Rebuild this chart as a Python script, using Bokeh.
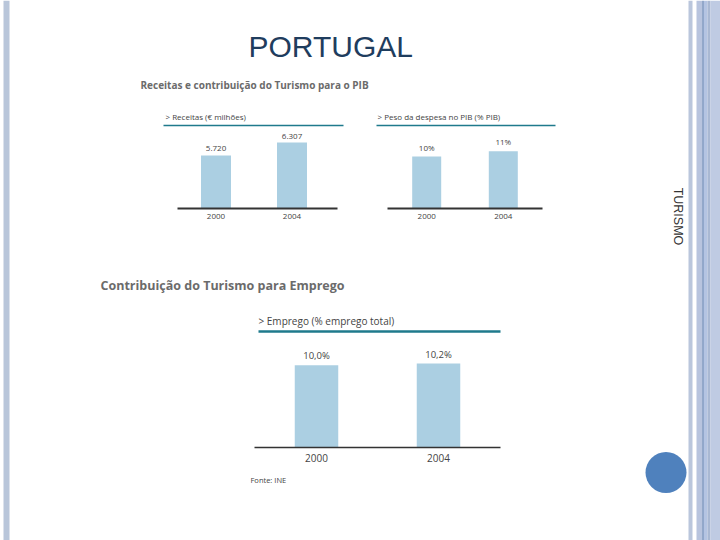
import math
from bokeh.plotting import figure
from bokeh.models import Range1d
from bokeh.core.properties import value
from bokeh.embed import file_html
from bokeh.resources import INLINE

# ---------------- data ----------------
years = ["2000", "2004"]
receitas = [5720, 6307]            # € milhões
peso_pib = [10, 11]                # % PIB
emprego = [10.0, 10.2]             # % emprego total

title_text = "PORTUGAL"
side_text = "TURISMO"
section1 = "Receitas e contribuição do Turismo para o PIB"
section2 = "Contribuição do Turismo para Emprego"
head1 = "> Receitas (€ milhões)"
head2 = "> Peso da despesa no PIB (% PIB)"
head3 = "> Emprego (% emprego total)"
fonte = "Fonte: INE"

rec_labels = [f"{v:,}".replace(",", ".") for v in receitas]
pib_labels = [f"{v}%" for v in peso_pib]
emp_labels = [f"{v:.1f}%".replace(".", ",") for v in emprego]

# ---------------- page ----------------
W, H = 720, 540
p = figure(width=W, height=H, output_backend="svg", toolbar_location=None,
           x_range=Range1d(0, W), y_range=Range1d(H, 0), min_border=0)
p.axis.visible = False
p.grid.visible = False
p.outline_line_color = None
p.background_fill_color = "white"
p.border_fill_color = "white"

SANS = value("Liberation Sans")
HUM = value("Open Sans")

# slide decorations
p.quad(left=3, right=9, bottom=H, top=0, fill_color="#b9c6da", line_color=None)
for l, r, c in [(688, 692, "#bac6dc"), (696, 702, "#b8c4de"), (703, 707, "#b4c4e2"),
                (707, 710, "#a9b8d2"), (710, 720, "#bfcbe3")]:
    p.quad(left=l, right=r, bottom=H, top=0, fill_color=c, line_color=None)
p.segment(x0=702.5, x1=702.5, y0=0, y1=H, line_color="#4a6fa5", line_width=1)
p.circle(x=[665.5], y=[472], radius=20.5, fill_color="#4f81bd", line_color=None)

p.text(x=[248], y=[46], text=[title_text], text_font=SANS, text_font_size="30px",
       text_color="#1f3d5e", text_baseline="middle", text_align="left")
p.text(x=[677], y=[216], text=[side_text], text_font=SANS, text_font_size="12.5px",
       text_color="#333333", angle=-math.pi / 2, text_align="center", text_baseline="middle")

p.text(x=[140], y=[84], text=[section1], text_font=HUM, text_font_size="10px",
       text_font_style="bold", text_color="#6b6b6b", text_baseline="middle")
p.text(x=[100], y=[285], text=[section2], text_font=HUM, text_font_size="12.5px",
       text_font_style="bold", text_color="#6b6b6b", text_baseline="middle")
p.text(x=[250], y=[479], text=[fonte], text_font=HUM, text_font_size="7.5px",
       text_color="#444444", text_baseline="middle")


def sub_ranges(name, x0px, x1px, base_px, base_val, px_per_unit):
    kx = x1px - x0px
    p.extra_x_ranges[name] = Range1d(-x0px / kx, (W - x0px) / kx)
    p.extra_y_ranges[name] = Range1d(base_val - (H - base_px) / px_per_unit,
                                     base_val + base_px / px_per_unit)


def bar_chart(name, vals, labels, base_val, width, head, hx, hline, line_y, bline, base_y,
              head_size, val_size, year_size, val_off, year_off, hline_w, bline_w):
    idx = list(range(len(vals)))
    p.vbar(x=idx, top=vals, bottom=base_val, width=width, fill_color="#abcfe2",
           line_color=None, x_range_name=name, y_range_name=name)
    p.text(x=idx, y=vals, text=labels, text_font=HUM, text_font_size=val_size,
           text_color="#444444", text_align="center", text_baseline="bottom",
           y_offset=val_off, x_range_name=name, y_range_name=name)
    p.text(x=idx, y=[base_val] * len(idx), text=years, text_font=HUM,
           text_font_size=year_size, text_color="#444444", text_align="center",
           text_baseline="top", y_offset=year_off, x_range_name=name, y_range_name=name)
    # header and baseline
    p.segment(x0=hline[0], x1=hline[1], y0=line_y, y1=line_y, line_color="#1f7a8c",
              line_width=hline_w)
    p.segment(x0=bline[0], x1=bline[1], y0=base_y, y1=base_y, line_color="#333333",
              line_width=bline_w)
    p.text(x=[hx], y=[line_y - 4], text=[head], text_font=HUM, text_font_size=head_size,
           text_color="#444444", text_baseline="bottom")


# chart 1: receitas
sub_ranges("c1", 215.5, 291.5, 208, 3300, 66 / 3007)
bar_chart("c1", receitas, rec_labels, 3300, 30 / 76, head1, 165, (163, 343), 125,
          (177, 337), 208, "8px", "8px", "8px", -4, 5, 1.5, 2)

# chart 2: peso no PIB
sub_ranges("c2", 426.2, 502.8, 208, 0, 5.2)
bar_chart("c2", peso_pib, pib_labels, 0, 29 / 76.6, head2, 377, (376, 555), 125,
          (387, 542), 208, "8px", "8px", "8px", -4, 5, 1.5, 2)

# chart 3: emprego
sub_ranges("c3", 316, 438, 447, 0, 8.23)
bar_chart("c3", emprego, emp_labels, 0, 43.5 / 122, head3, 258, (258, 500), 331,
          (254, 500), 447, "10px", "9.5px", "10px", -3, 6, 2.5, 1.5)

open("out.html", "w").write(file_html(p, INLINE))
